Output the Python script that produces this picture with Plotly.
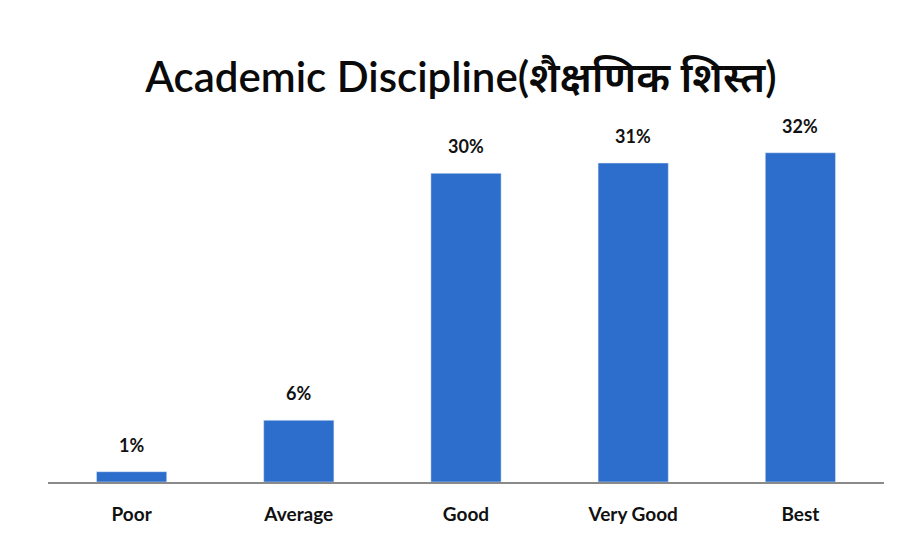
import plotly.graph_objects as go

categories = ["Poor", "Average", "Good", "Very Good", "Best"]
percent = [1, 6, 30, 31, 32]
labels = [f"{v}%" for v in percent]

BAR = "#2D6DCB"
FONT = "Lato, Noto Sans, sans-serif"

fig = go.Figure(go.Bar(x=categories, y=percent, marker_color=BAR, hoverinfo="x+y"))

# value labels sit well above each bar, as in the original
for c, v, t in zip(categories, percent, labels):
    fig.add_annotation(x=c, y=v, text=t, showarrow=False, yanchor="bottom", yshift=14,
                       font=dict(family=FONT, size=18, color="#111111", weight="bold"))

fig.update_layout(
    width=906, height=554,
    paper_bgcolor="white", plot_bgcolor="white",
    margin=dict(l=40, r=30, t=118, b=80),
    bargap=0.58,
    showlegend=False,
    title=dict(
        text="Academic Discipline(शैक्षणिक शिस्त)",
        x=0.5, xanchor="center", y=0.875, yanchor="middle",
        font=dict(family=FONT, size=42, color="#0a0a0a", weight=600),
    ),
)
fig.update_yaxes(range=[0, 34.6], visible=False, showgrid=False)
fig.update_xaxes(
    showline=True, linecolor="#8a8a8a", linewidth=1.5, ticks="", ticklabelstandoff=14,
    tickfont=dict(family=FONT, size=19, color="#111111", weight="bold"),
)
fig.write_html("out.html")
